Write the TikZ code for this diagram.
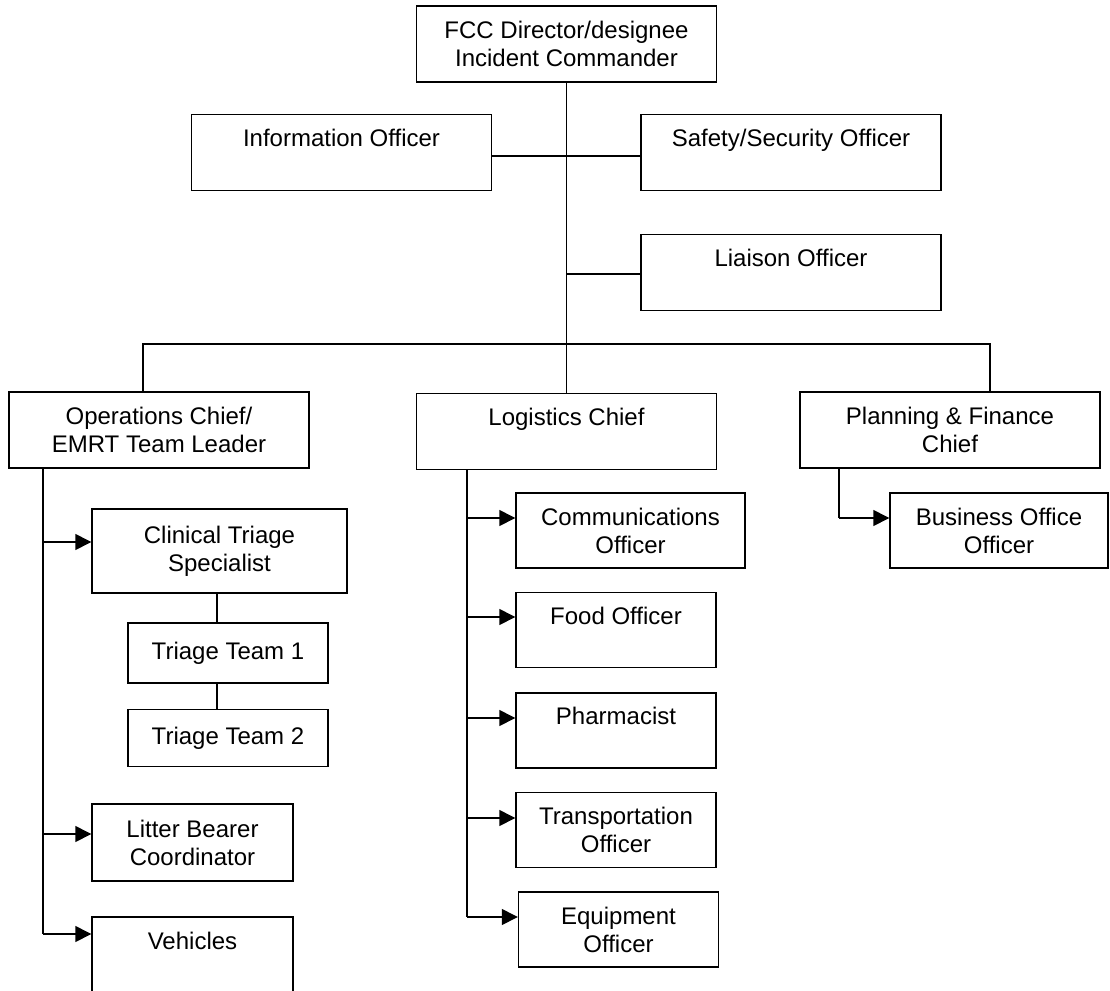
\documentclass[tikz,border=0pt]{standalone}
\usepackage{fontspec}
\setmainfont{Liberation Sans}
\usetikzlibrary{arrows.meta,positioning}
\tikzset{%
  box/.style={draw, line width=0.7pt, inner sep=0pt, align=center,
    font=\fontsize{12}{14}\selectfont},
  wide box/.style={box, minimum width=150pt, minimum height=38pt},
  small box/.style={box, minimum width=100pt, minimum height=37.5pt},
  top text/.style={text height=9pt, text depth=15pt},
  link/.style={line width=0.7pt},
  arr/.style={link, -{Triangle[length=8pt, width=8pt]}}
}

\begin{document}
\begin{tikzpicture}[x=0.5pt, y=-0.5pt]
  \useasboundingbox (0,0) rectangle (1110,991);

  % command staff
  \node[wide box] (fcc) at (566.5,44) {FCC Director/designee\\Incident Commander};
  \node[wide box, top text] (info) at (341.5,152.5) {Information Officer};
  \node[wide box, top text] (safety) at (791,152.5) {Safety/Security Officer};
  \node[wide box, top text] (liaison) at (791,272.5) {Liaison Officer};

  % section chiefs
  \node[wide box] (ops) at (159,430) {Operations Chief/\\EMRT Team Leader};
  \node[wide box, top text] (logistics) at (566.5,431.5) {Logistics Chief};
  \node[wide box] (planning) at (950,430) {Planning \& Finance\\Chief};

  % operations
  \node[box, minimum width=127.5pt, minimum height=42pt] (clinical) at (219.5,551) {Clinical Triage\\Specialist};
  \node[box, minimum width=100pt, minimum height=30pt] (triage1) at (228,653) {Triage Team 1};
  \node[box, minimum width=100pt, minimum height=28.5pt, below=12.5pt of triage1] (triage2) {Triage Team 2};
  \node[small box, minimum width=100.5pt, minimum height=38.5pt] (litter) at (192.5,842.5) {Litter Bearer\\Coordinator};
  \node[small box, minimum width=100.5pt, minimum height=38.5pt, top text] (vehicles) at (192.5,955.5) {Vehicles};

  % logistics
  \node[box, minimum width=114.5pt, minimum height=37.5pt] (comm) at (630.5,530.5) {Communications\\Officer};
  \node[small box, top text] (food) at (616,630) {Food Officer};
  \node[small box, top text] (pharm) at (616,730.5) {Pharmacist};
  \node[small box] (transport) at (616,830) {Transportation\\Officer};
  \node[small box] (equip) at (618.5,929.5) {Equipment\\Officer};

  % planning
  \node[box, minimum width=109pt, minimum height=37.5pt] (business) at (999,530.5) {Business Office\\Officer};

  \draw[link] (fcc.south) -- (logistics.north);
  \draw[link] ([yshift=-1.75pt]info.east) -- ([yshift=-1.75pt]safety.west);
  \draw[link] ([yshift=-0.75pt]fcc.south |- liaison.west) -- ([yshift=-0.75pt]liaison.west);

  \coordinate (barL) at (143,344);
  \coordinate (barR) at (990,344);
  \draw[link] (barL |- ops.north) -- (barL) -- (barR) -- (barR |- planning.north);

  \foreach \n/\y in {clinical/542, litter/834, vehicles/934} {
    \coordinate (o-\n) at (43,\y);
    \draw[arr] (o-\n) -- (o-\n -| \n.west);
  }
  \draw[link] (o-clinical |- ops.south) -- (o-vehicles);

  \coordinate (tx) at (217,600);
  \draw[link] (tx |- clinical.south) -- (tx |- triage1.north);
  \draw[link] (tx |- triage1.south) -- (tx |- triage2.north);

  \foreach \n/\y in {comm/518, food/617, pharm/718, transport/818, equip/917} {
    \coordinate (l-\n) at (467,\y);
    \draw[arr] (l-\n) -- (l-\n -| \n.west);
  }
  \draw[link] (l-comm |- logistics.south) -- (l-equip);

  \coordinate (pb) at (839,518);
  \draw[link] (pb |- planning.south) -- (pb);
  \draw[arr] (pb) -- (pb -| business.west);
\end{tikzpicture}
\end{document}
